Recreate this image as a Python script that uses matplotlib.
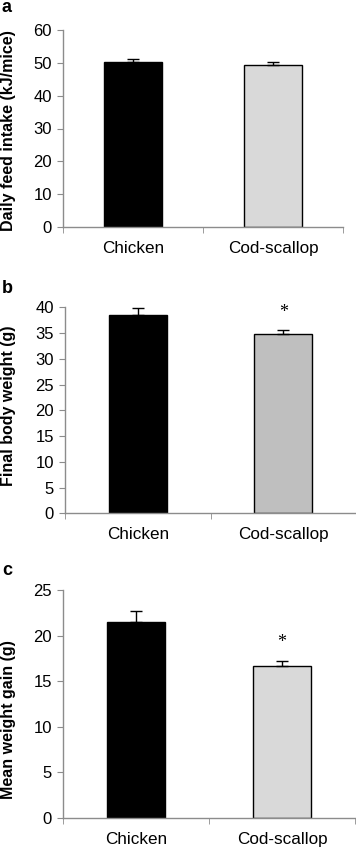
import matplotlib
matplotlib.use("Agg")
import matplotlib.pyplot as plt

plt.rcParams["font.family"] = ["Liberation Sans", "DejaVu Sans"]

# data
groups = ["Chicken", "Cod-scallop"]

feed_mean = [50.3, 49.3]
feed_err = [0.9, 1.0]

weight_mean = [38.6, 34.8]
weight_err = [1.3, 0.7]

gain_mean = [21.5, 16.65]
gain_err = [1.2, 0.6]

W, H = 356, 848
fig = plt.figure(figsize=(W / 100, H / 100), dpi=100)

spine_col = "#8c8c8c"


def box(left, right, top, bottom):
    return [left / W, 1 - bottom / H, (right - left) / W, (bottom - top) / H]


def panel(rect, means, errs, colors, ymax, ystep, ylabel, label_y, letter, letter_base,
          barw, stars=False):
    ax = fig.add_axes(rect)
    x = range(len(groups))
    ax.bar(x, means, width=barw, color=colors, edgecolor="black", linewidth=1.0, zorder=2)
    ax.errorbar(x, means, yerr=[[0] * len(errs), errs], fmt="none", ecolor="black",
                elinewidth=1.0, capsize=4, capthick=1.0, zorder=3)
    if stars:
        ax.annotate("*", xy=(1, means[1] + errs[1]), xytext=(0, 7),
                    textcoords="offset points", ha="center", va="bottom",
                    fontsize=13, family="Liberation Serif")
    ax.set_xlim(-0.5, 1.5)
    ax.set_ylim(0, ymax)
    ax.set_yticks(range(0, ymax + 1, ystep))
    ax.set_xticks([0, 1])
    ax.set_xticklabels(groups, fontsize=12.3)
    ax.set_xticks([-0.5, 0.5, 1.5], minor=True)
    ax.tick_params(axis="x", which="major", length=0, pad=10)
    ax.tick_params(axis="x", which="minor", length=4, direction="out", color=spine_col)
    ax.tick_params(axis="y", length=4, direction="out", color=spine_col, labelsize=12, pad=4)
    for s in ["top", "right"]:
        ax.spines[s].set_visible(False)
    for s in ["left", "bottom"]:
        ax.spines[s].set_color(spine_col)
        ax.spines[s].set_linewidth(1.0)
    fig.text(9 / W, 1 - label_y / H, ylabel, rotation=90, ha="center", va="center",
             fontsize=11.5, fontweight="bold")
    fig.text(2 / W, 1 - letter_base / H, letter, ha="left", va="baseline",
             fontsize=13, fontweight="bold")
    return ax


panel(box(63, 343, 30, 227), feed_mean, feed_err, ["black", "#d9d9d9"], 60, 10,
      "Daily feed intake (kJ/mice)", 131, "a", 12, 0.41)
panel(box(65, 356, 307.3, 513.3), weight_mean, weight_err, ["black", "#bfbfbf"], 40, 5,
      "Final body weight (g)", 406, "b", 293, 0.40, stars=True)
panel(box(63, 355, 590, 817.7), gain_mean, gain_err, ["black", "#d9d9d9"], 25, 5,
      "Mean weight gain (g)", 720, "c", 575, 0.40, stars=True)

fig.savefig("out.png", dpi=100)
